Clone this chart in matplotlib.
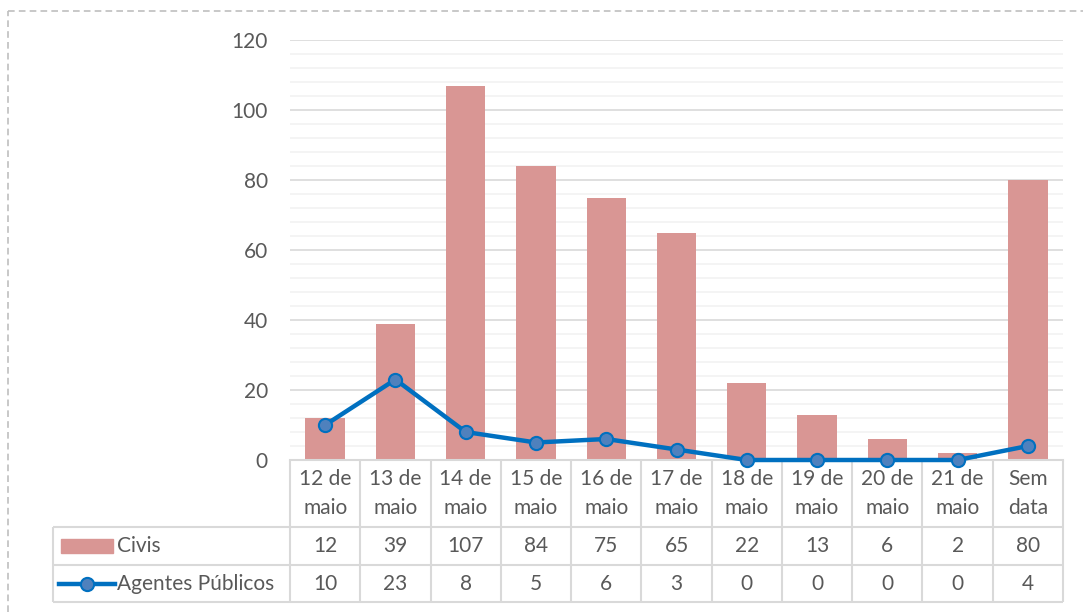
import matplotlib
matplotlib.use("Agg")
import matplotlib.pyplot as plt
from matplotlib.patches import Rectangle
from matplotlib.lines import Line2D
import matplotlib.transforms as mtrans

plt.rcParams['font.family'] = ['Lato', 'DejaVu Sans']

# data
dates = ["12 de\nmaio", "13 de\nmaio", "14 de\nmaio", "15 de\nmaio", "16 de\nmaio",
         "17 de\nmaio", "18 de\nmaio", "19 de\nmaio", "20 de\nmaio", "21 de\nmaio",
         "Sem\ndata"]
civis = [12, 39, 107, 84, 75, 65, 22, 13, 6, 2, 80]
agentes = [10, 23, 8, 5, 6, 3, 0, 0, 0, 0, 4]
series_names = ["Civis", "Agentes Públicos"]

bar_color = "#D99694"
line_color = "#0070C0"
marker_face = "#4F81BD"
text_color = "#595959"
grid_major = "#D9D9D9"
grid_minor = "#F2F2F2"
fs = 15

W, H = 1083, 612
fig = plt.figure(figsize=(W / 100, H / 100), dpi=100)

# plot area in pixels
x0, x1, y0, y1 = 290, 1063, 40, 460
ax = fig.add_axes([x0 / W, 1 - y1 / H, (x1 - x0) / W, (y1 - y0) / H])

n = len(dates)
xs = list(range(n))
ax.bar(xs, civis, width=0.56, color=bar_color, zorder=2)
ax.plot(xs, agentes, color=line_color, lw=3.2, marker="o", ms=9.5,
        mfc=marker_face, mec=line_color, mew=1.5, zorder=3, clip_on=False)

ax.set_xlim(-0.5, n - 0.5)
ax.set_ylim(0, 120)
ax.set_yticks(range(0, 121, 20))
ax.set_yticks(range(0, 121, 4), minor=True)
ax.grid(axis="y", which="major", color=grid_major, lw=1.2, zorder=0)
ax.grid(axis="y", which="minor", color=grid_minor, lw=1.2, zorder=0)
ax.tick_params(axis="y", which="both", length=0, pad=16, labelsize=fs, labelcolor=text_color)
ax.tick_params(axis="x", length=0, labelbottom=False)
for s in ["top", "right", "left"]:
    ax.spines[s].set_visible(False)
ax.spines["bottom"].set_color(grid_major)
ax.spines["bottom"].set_linewidth(1.5)

# data table below the axes
def ay(ypx):
    return (y1 - ypx) / (y1 - y0)

leg_left = (52.7 - x0) / (x1 - x0)
r_head = ay(526.7)
r_mid = ay(565)
r_bot = ay(602)
tcol = dict(color=grid_major, lw=1.5, clip_on=False, solid_capstyle="butt")

blend = mtrans.blended_transform_factory(ax.transData, ax.transAxes)
for i in range(n + 1):
    ax.plot([i - 0.5, i - 0.5], [0, r_bot], transform=blend, **tcol)
for yy in [r_head, r_mid, r_bot]:
    ax.plot([leg_left, 1], [yy, yy], transform=ax.transAxes, **tcol)
ax.plot([leg_left, leg_left], [r_head, r_bot], transform=ax.transAxes, **tcol)

for i, d in enumerate(dates):
    ax.text(i, (0 + r_head) / 2, d, transform=blend, ha="center", va="center",
            fontsize=fs, color=text_color, linespacing=1.6)
    ax.text(i, (r_head + r_mid) / 2, str(civis[i]), transform=blend, ha="center",
            va="center", fontsize=fs, color=text_color)
    ax.text(i, (r_mid + r_bot) / 2, str(agentes[i]), transform=blend, ha="center",
            va="center", fontsize=fs, color=text_color)

# legend keys inside the table
def axx(xpx):
    return (xpx - x0) / (x1 - x0)

sw_h = 14 / (y1 - y0)
ax.add_patch(Rectangle((axx(61), (r_head + r_mid) / 2 - sw_h / 2), axx(113) - axx(61), sw_h,
                       transform=ax.transAxes, color=bar_color, clip_on=False))
ax.text(axx(117), (r_head + r_mid) / 2, series_names[0], transform=ax.transAxes,
        ha="left", va="center", fontsize=fs, color=text_color)
ym = (r_mid + r_bot) / 2
ax.add_line(Line2D([axx(59), axx(115)], [ym, ym], transform=ax.transAxes, color=line_color,
                   lw=3.2, clip_on=False))
ax.add_line(Line2D([axx(87)], [ym], transform=ax.transAxes, marker="o", ms=9.5,
                   mfc=marker_face, mec=line_color, mew=1.5, clip_on=False))
ax.text(axx(117), ym, series_names[1], transform=ax.transAxes,
        ha="left", va="center", fontsize=fs, color=text_color)

# dashed chart border
fig.add_artist(Line2D([7.7 / W, 7.7 / W], [0, 1 - 10.7 / H], transform=fig.transFigure,
                      color="#BFBFBF", lw=1.2, ls=(0, (4, 2.5))))
fig.add_artist(Line2D([7.7 / W, 1], [1 - 10.7 / H, 1 - 10.7 / H], transform=fig.transFigure,
                      color="#BFBFBF", lw=1.2, ls=(0, (4, 2.5))))

fig.savefig("out.png", dpi=100)
